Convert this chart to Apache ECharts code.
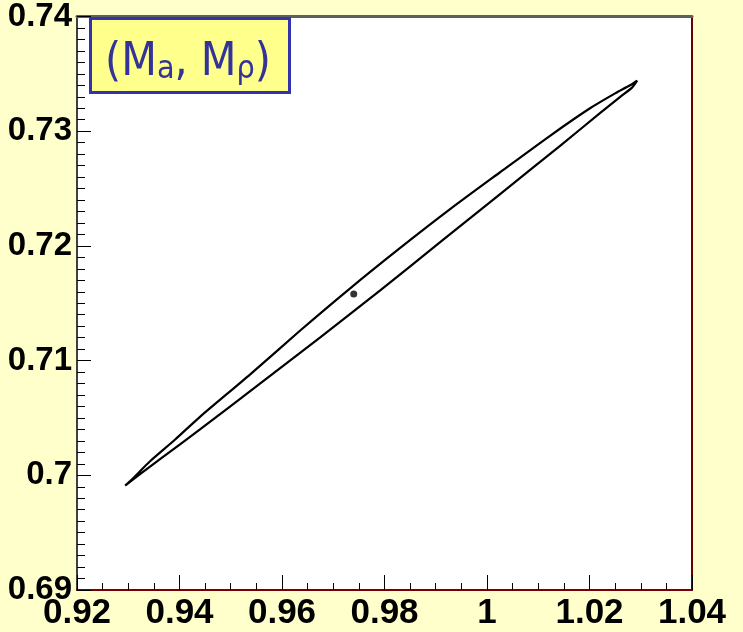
<!DOCTYPE html>
<html>
<head>
<meta charset="utf-8">
<script src="https://cdn.jsdelivr.net/npm/echarts@6/dist/echarts.min.js"></script>
<style>
  html, body { margin: 0; padding: 0; background: #ffffcc; }
  #chart { width: 743px; height: 632px; }
</style>
</head>
<body>
<div id="chart"></div>
<script>
// contour: upper-left edge, tip to tip
const upperX = [0.9294, 0.9313, 0.9342, 0.9391, 0.9440, 0.9538, 0.9635, 0.9733, 0.9830, 0.9928, 1.0025, 1.0123, 1.0201, 1.0250, 1.0279, 1.0293];
const upperY = [0.6991, 0.6999, 0.7012, 0.7031, 0.7051, 0.7088, 0.7126, 0.7163, 0.7198, 0.7232, 0.7264, 0.7296, 0.7320, 0.7333, 0.7340, 0.7344];
// lower-right edge, from the upper tip back down
const lowerX = [1.0283, 1.0260, 1.0221, 1.0142, 1.0025, 0.9908, 0.9791, 0.9674, 0.9557, 0.9440, 0.9362, 0.9323, 0.9294];
const lowerY = [0.7338, 0.7330, 0.7316, 0.7287, 0.7245, 0.7203, 0.7161, 0.7120, 0.7080, 0.7040, 0.7014, 0.7001, 0.6991];

// best fit point
const bestX = 0.9740;
const bestY = 0.7158;

const xTicks = { min: 0.92, max: 1.04, step: 0.02 };
const yTicks = { min: 0.69, max: 0.74, step: 0.01 };

const legendText = '{n|(M}{s|a}{n|, M}{s|ρ}{n|)}';

const labelStyle = {
  color: '#000',
  fontFamily: 'Liberation Sans',
  fontWeight: 'bold'
};

const fmt = (v) => String(+v.toFixed(2));

const getOptions = () => {
  const contour = upperX
    .map((x, i) => [x, upperY[i]])
    .concat(lowerX.map((x, i) => [x, lowerY[i]]));

  return {
    backgroundColor: '#ffffcc',
    animation: false,
    grid: {
      left: 77,
      top: 6,
      right: 51,
      bottom: 42,
      show: true,
      backgroundColor: '#fff',
      borderWidth: 0
    },
    xAxis: [
      {
        type: 'value',
        position: 'bottom',
        min: xTicks.min,
        max: xTicks.max,
        interval: xTicks.step,
        axisLine: { lineStyle: { color: '#7a0000', width: 2 } },
        axisTick: { inside: true, length: 15, lineStyle: { color: '#000' } },
        minorTick: { show: true, splitNumber: 4, length: 7, lineStyle: { color: '#000' } },
        axisLabel: {
          ...labelStyle,
          fontSize: 35,
          margin: 6,
          formatter: fmt,
          hideOverlap: false,
          showMinLabel: true,
          showMaxLabel: true
        },
        splitLine: { show: false }
      },
      {
        type: 'value',
        position: 'top',
        min: xTicks.min,
        max: xTicks.max,
        axisLine: { lineStyle: { color: '#60605a', width: 3 } },
        axisTick: { show: false },
        axisLabel: { show: false },
        splitLine: { show: false }
      }
    ],
    yAxis: [
      {
        type: 'value',
        position: 'left',
        min: yTicks.min,
        max: yTicks.max,
        interval: yTicks.step,
        axisLine: { lineStyle: { color: '#404040', width: 2 } },
        axisTick: { inside: true, length: 14, lineStyle: { color: '#000' } },
        minorTick: { show: true, splitNumber: 10, length: 8, lineStyle: { color: '#000' } },
        axisLabel: {
          ...labelStyle,
          fontSize: 33,
          margin: 5,
          formatter: fmt,
          hideOverlap: false,
          showMinLabel: true,
          showMaxLabel: true
        },
        splitLine: { show: false }
      },
      {
        type: 'value',
        position: 'right',
        min: yTicks.min,
        max: yTicks.max,
        axisLine: { lineStyle: { color: '#6a0000', width: 2 } },
        axisTick: { show: false },
        axisLabel: { show: false },
        splitLine: { show: false }
      }
    ],
    series: [
      {
        type: 'line',
        data: contour,
        showSymbol: false,
        symbol: 'none',
        smooth: 0.25,
        lineStyle: { color: '#000', width: 2.2 },
        silent: true
      },
      {
        type: 'scatter',
        data: [[bestX, bestY]],
        symbol: 'circle',
        symbolSize: 7,
        itemStyle: { color: '#000' },
        silent: true
      }
    ],
    graphic: [
      {
        type: 'rect',
        left: 89,
        top: 17,
        shape: { width: 199, height: 74 },
        style: { fill: '#ffff8c', stroke: '#3333aa', lineWidth: 3 },
        z: 10
      },
      {
        type: 'text',
        x: 188,
        y: 63,
        z: 11,
        style: {
          text: legendText,
          align: 'center',
          verticalAlign: 'middle',
          fill: '#333399',
          rich: {
            n: { fontFamily: 'DejaVu Sans Condensed', fontSize: 46, fill: '#333399', verticalAlign: 'top' },
            s: { fontFamily: 'DejaVu Sans Condensed', fontSize: 32, fill: '#333399', verticalAlign: 'top', padding: [14, 0, 0, 0] }
          }
        }
      }
    ]
  };
};

const chart = echarts.init(document.getElementById('chart'), null, { renderer: 'canvas' });
chart.setOption(getOptions());
</script>
</body>
</html>
